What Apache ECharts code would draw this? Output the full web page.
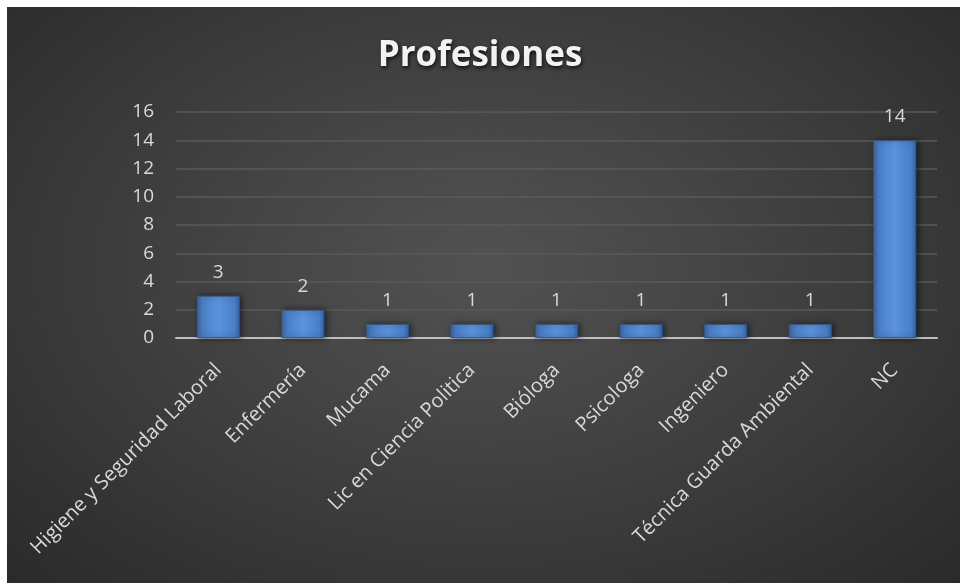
<!DOCTYPE html>
<html><head><meta charset="utf-8">
<script src="https://cdn.jsdelivr.net/npm/echarts@6/dist/echarts.min.js"></script>
<style>
html,body{margin:0;padding:0;background:#fff;}
#wrap{position:absolute;left:7px;top:7px;width:953px;height:576px;
background:radial-gradient(ellipse at 50% 45%, #525252 0%, #434343 40%, #2a2a2a 100%);}
#chart{position:absolute;left:-7px;top:-7px;width:960px;height:583px;}
</style></head>
<body><div id="wrap"><div id="chart"></div></div>
<script>
const categories = ['Higiene y Seguridad Laboral','Enfermería','Mucama','Lic en Ciencia Politica','Bióloga','Psicologa','Ingeniero','Técnica Guarda Ambiental','NC'];
const values = [3,2,1,1,1,1,1,1,14];
const yTicks = {min:0,max:16,interval:2};
const titleText = 'Profesiones';

const chart = echarts.init(document.getElementById('chart'), null, {renderer:'canvas'});
const font = '"Open Sans", "Noto Sans", sans-serif';
chart.setOption({
  backgroundColor:'transparent',
  title:{text:titleText,left:'center',top:34,
    textStyle:{color:'#f2f2f2',fontSize:35,fontWeight:'bold',fontFamily:font,
      textShadowColor:'rgba(0,0,0,0.8)',textShadowBlur:4,textShadowOffsetX:1,textShadowOffsetY:2}},
  grid:{left:176,right:23,top:112,bottom:245,containLabel:false},
  xAxis:{type:'category',data:categories,
    axisLine:{lineStyle:{color:'#bfbfbf',width:2}},
    axisTick:{show:false},
    axisLabel:{rotate:45,color:'#d9d9d9',fontSize:20,fontFamily:font,interval:0,margin:29}},
  yAxis:{type:'value',min:yTicks.min,max:yTicks.max,interval:yTicks.interval,
    axisLine:{show:false},axisTick:{show:false},
    splitLine:{lineStyle:{color:'#5a5a5a',width:1.5}},
    axisLabel:{color:'#d9d9d9',fontSize:19,fontFamily:font,margin:22}},
  series:[{type:'bar',data:values,barWidth:'51%',
    itemStyle:{color:new echarts.graphic.LinearGradient(0,0,1,0,[
      {offset:0,color:'#3a67a3'},{offset:0.12,color:'#4a80c8'},{offset:0.5,color:'#5a93dc'},{offset:0.88,color:'#4a80c8'},{offset:1,color:'#3a67a3'}]),
      borderColor:'#2f5790',borderWidth:1,
      shadowColor:'rgba(0,0,0,0.55)',shadowBlur:6,shadowOffsetX:2,shadowOffsetY:0},
    label:{show:true,position:'top',distance:14,color:'#d9d9d9',fontSize:19,fontFamily:font}
  }]
});
</script></body></html>
